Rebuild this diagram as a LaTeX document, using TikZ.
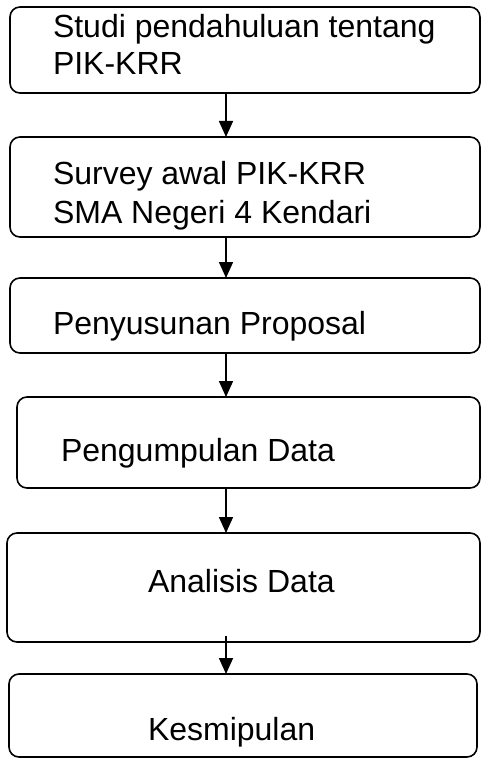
\documentclass[tikz,border=0pt]{standalone}
\usepackage{fontspec}
\setmainfont{Liberation Sans}
\usetikzlibrary{arrows.meta}

\tikzset{
  stepbox/.style={draw=black, line width=1.6pt, rounded corners=10pt,
    inner sep=0pt, outer sep=0pt},
  label/.style={anchor=base west, inner sep=0pt, outer sep=0pt,
    font=\fontsize{32}{38}\selectfont},
  flow/.style={draw=black, line width=1.6pt,
    -{Triangle[width=14pt,length=16pt]}}
}

\begin{document}
\begin{tikzpicture}[x=1pt,y=-1pt]
  \useasboundingbox (0,0) rectangle (481,759);

  % process boxes
  \node[stepbox, minimum width=470pt, minimum height=86pt]  (b1) at (245,50)    {};
  \node[stepbox, minimum width=470pt, minimum height=100pt] (b2) at (245,187)   {};
  \node[stepbox, minimum width=470pt, minimum height=75pt]  (b3) at (245,315.5) {};
  \node[stepbox, minimum width=463pt, minimum height=91pt]  (b4) at (248.5,442.5) {};
  \node[stepbox, minimum width=473pt, minimum height=109pt] (b5) at (243.5,587.5) {};
  \node[stepbox, minimum width=468pt, minimum height=83pt]  (b6) at (243,715.5) {};

  % box texts
  \node[label] (t1a) at (53,38)  {Studi pendahuluan tentang};
  \node[label] (t1b) at (53,75)  {PIK-KRR};
  \node[label] (t2a) at (53,185) {Survey awal PIK-KRR};
  \node[label] (t2b) at (53,223) {SMA Negeri 4 Kendari};
  \node[label] (t3)  at (53,334) {Penyusunan Proposal};
  \node[label] (t4)  at (61,461) {Pengumpulan Data};
  \node[label] (t5)  at (148,592) {Analisis Data};
  \node[label] (t6)  at (148,740) {Kesmipulan};

  % arrow column
  \coordinate (ax) at (226,0);

  \draw[flow] (b1.south -| ax) -- (b2.north -| ax);
  \draw[flow] (b2.south -| ax) -- (b3.north -| ax);
  \draw[flow] (b3.south -| ax) -- (b4.north -| ax);
  \draw[flow] (b4.south -| ax) -- (b5.north -| ax);
  \draw[flow] ([yshift=6pt]b5.south -| ax) -- (b6.north -| ax);
\end{tikzpicture}
\end{document}
